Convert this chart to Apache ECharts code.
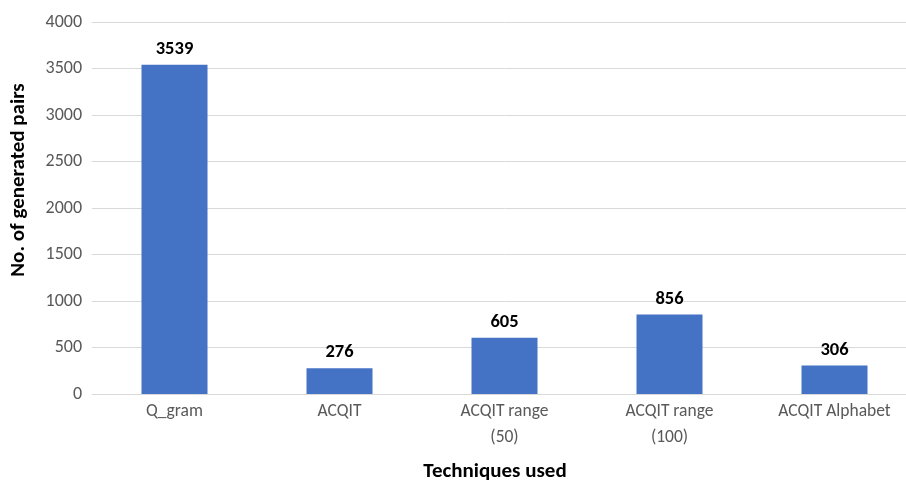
<!DOCTYPE html>
<html>
<head>
<meta charset="utf-8">
<script src="https://cdn.jsdelivr.net/npm/echarts@6/dist/echarts.min.js"></script>
<style>
  html, body { margin: 0; padding: 0; background: #fff; overflow: hidden; }
  /* the plot area extends a little past the visible window on the right */
  #chart { width: 917px; height: 484px; }
</style>
</head>
<body>
<div id="chart"></div>
<script>
// Generated pairs per technique
const categories = ['Q_gram', 'ACQIT', 'ACQIT range\n(50)', 'ACQIT range\n(100)', 'ACQIT Alphabet'];
const pairCounts = [3539, 276, 605, 856, 306];
const yTicks = { min: 0, max: 4000, interval: 500 };

const FONT = 'Carlito, Lato, "Open Sans", sans-serif';

const chart = echarts.init(document.getElementById('chart'), null, { renderer: 'canvas' });
chart.setOption({
  animation: false,
  backgroundColor: '#ffffff',
  grid: { left: 92, top: 22, right: 0, bottom: 90, containLabel: false },
  xAxis: {
    type: 'category',
    data: categories,
    axisLine: { lineStyle: { color: '#d9d9d9', width: 1 } },
    axisTick: { show: false },
    axisLabel: { color: '#595959', fontSize: 17.5, fontFamily: FONT, margin: 5, lineHeight: 26, interval: 0 }
  },
  yAxis: {
    type: 'value',
    min: yTicks.min, max: yTicks.max, interval: yTicks.interval,
    axisLine: { show: false },
    axisTick: { show: false },
    splitLine: { lineStyle: { color: '#d9d9d9', width: 1 } },
    axisLabel: { color: '#595959', fontSize: 18, fontFamily: FONT, margin: 10, formatter: v => String(v) }
  },
  series: [{
    type: 'bar',
    data: pairCounts,
    barWidth: '40%',
    itemStyle: { color: '#4472c4' },
    label: {
      show: true, position: 'top', distance: 6,
      color: '#000', fontWeight: 'bold', fontSize: 18.5, fontFamily: FONT
    }
  }],
  graphic: [
    {
      type: 'text', x: 495, y: 472,
      style: { text: 'Techniques used', fill: '#000', font: 'bold 21px ' + FONT, align: 'center', verticalAlign: 'middle' }
    },
    {
      type: 'text', x: 19, y: 180, rotation: Math.PI / 2,
      style: { text: 'No. of generated pairs', fill: '#000', font: 'bold 21px ' + FONT, align: 'center', verticalAlign: 'middle' }
    }
  ]
});
</script>
</body>
</html>
